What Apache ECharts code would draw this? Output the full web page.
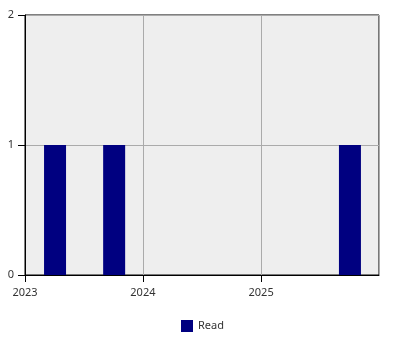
<!DOCTYPE html>
<html>
<head>
<meta charset="utf-8">
<script src="https://cdn.jsdelivr.net/npm/echarts@6/dist/echarts.min.js"></script>
<style>html,body{margin:0;padding:0;background:#fff}#c{width:400px;height:350px}</style>
</head>
<body>
<div id="c"></div>
<script>
const dates = ['2023-04-04', '2023-10-04', '2025-10-03'];
const readValues = [1, 1, 1];
const seriesName = 'Read';
const xMin = '2023-01-01T00:00:00';
const xMax = '2025-12-31T23:00:00';
const yTicks = [0, 1, 2];

const chart = echarts.init(document.getElementById('c'));
const font = '"Noto Sans", sans-serif';
const YEAR = 365.25 * 24 * 3600 * 1000;
const BAR_W = 22;
chart.setOption({
  animation: false,
  grid: { left: 25, right: 21, top: 15, bottom: 75, show: true, backgroundColor: '#eeeeee', borderColor: '#000', borderWidth: 1 },
  legend: {
    data: [seriesName], left: 181, top: 320, icon: 'rect', itemWidth: 12, itemHeight: 12, itemGap: 6, padding: 0,
    textStyle: { fontFamily: font, fontSize: 11, color: '#333' }
  },
  xAxis: {
    type: 'time', min: new Date(xMin).getTime(), max: new Date(xMax).getTime(), minInterval: YEAR * 0.99, maxInterval: YEAR * 1.01,
    axisLine: { show: true, lineStyle: { color: '#000' } },
    axisTick: { show: true, length: 7, lineStyle: { color: '#000' } },
    axisLabel: { formatter: '{yyyy}', fontFamily: font, fontSize: 11, color: '#333', margin: 12, showMaxLabel: false, hideOverlap: false },
    splitLine: { show: true, lineStyle: { color: '#aaaaaa', width: 1 } },
    minorTick: { show: false }
  },
  yAxis: {
    type: 'value', min: yTicks[0], max: yTicks[yTicks.length - 1], interval: 1,
    axisLine: { show: true, lineStyle: { color: '#000' } },
    axisTick: { show: true, length: 7, lineStyle: { color: '#000' } },
    axisLabel: { fontFamily: font, fontSize: 11, color: '#333', margin: 11 },
    splitLine: { show: true, lineStyle: { color: '#aaaaaa', width: 1 } }
  },
  series: [{
    name: seriesName, type: 'custom',
    itemStyle: { color: '#000080' },
    encode: { x: 0, y: 1 },
    data: dates.map((d, i) => [new Date(d + 'T00:00:00').getTime(), readValues[i]]),
    renderItem: function (params, api) {
      const top = api.coord([api.value(0), api.value(1)]);
      const base = api.coord([api.value(0), 0]);
      return {
        type: 'rect',
        shape: { x: top[0] - BAR_W / 2, y: top[1], width: BAR_W, height: base[1] - top[1] },
        style: { fill: '#000080' }
      };
    }
  }]
});
</script>
</body>
</html>
